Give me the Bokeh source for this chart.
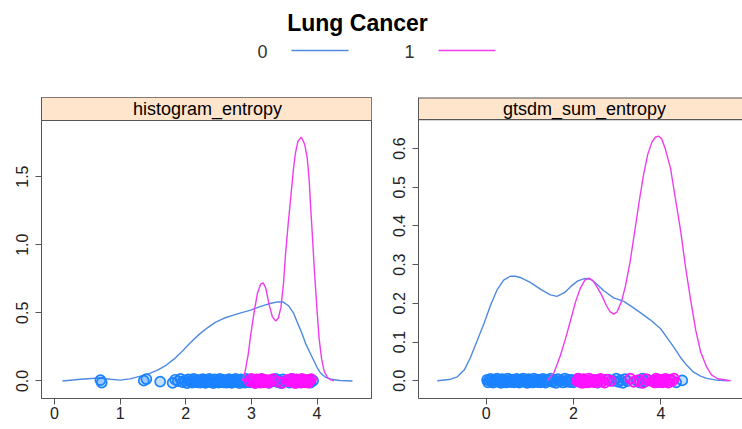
from bokeh.plotting import figure
from bokeh.layouts import column, row
from bokeh.models import Range1d, FixedTicker, NumeralTickFormatter
from bokeh.core.properties import value
from bokeh.embed import file_html
from bokeh.resources import INLINE

# ---------------- data ----------------
title = "Lung Cancer"
groups = ["0", "1"]
panel_names = ["histogram_entropy", "gtsdm_sum_entropy"]

# panel 1 : histogram_entropy density curves
h_x0 = [0.12, 0.40, 0.68, 0.85, 1.00, 1.15, 1.31, 1.45, 1.57, 1.70, 1.82, 1.95, 2.07, 2.20, 2.33,
        2.45, 2.58, 2.70, 2.84, 2.99, 3.10, 3.19, 3.30, 3.40, 3.48, 3.57, 3.64, 3.70, 3.77, 3.83,
        3.90, 3.95, 4.00, 4.05, 4.12, 4.21, 4.35, 4.54]
h_y0 = [0.0, 0.012, 0.022, 0.012, 0.006, 0.015, 0.035, 0.055, 0.08, 0.115, 0.16, 0.22, 0.28, 0.34,
        0.39, 0.43, 0.46, 0.48, 0.50, 0.52, 0.54, 0.555, 0.57, 0.58, 0.58, 0.55, 0.50, 0.43, 0.35,
        0.27, 0.20, 0.15, 0.10, 0.06, 0.03, 0.012, 0.003, 0.0]
h_x1 = [2.86, 2.90, 2.95, 2.99, 3.04, 3.09, 3.14, 3.18, 3.22, 3.27, 3.32, 3.37, 3.41, 3.45, 3.49,
        3.52, 3.56, 3.60, 3.64, 3.67, 3.71, 3.76, 3.81, 3.85, 3.88, 3.90, 3.93, 3.96, 4.00, 4.03,
        4.07, 4.11, 4.16, 4.21, 4.26]
h_y1 = [0.0, 0.06, 0.19, 0.34, 0.50, 0.64, 0.71, 0.72, 0.68, 0.56, 0.47, 0.44, 0.46, 0.54, 0.72,
        0.93, 1.15, 1.35, 1.55, 1.67, 1.76, 1.79, 1.74, 1.64, 1.48, 1.30, 1.06, 0.81, 0.52, 0.32,
        0.16, 0.07, 0.025, 0.008, 0.0]
# panel 1 : observations
h_pts0 = [0.70, 0.72, 1.36, 1.40, 1.61, 1.80, 1.84, 1.88, 1.92, 1.95, 1.99, 2.02, 2.04, 2.06, 2.08,
          2.10, 2.12, 2.14, 2.16, 2.18, 2.20, 2.22, 2.24, 2.26, 2.28, 2.30, 2.32, 2.34, 2.36, 2.38,
          2.40, 2.42, 2.44, 2.46, 2.48, 2.50, 2.52, 2.54, 2.56, 2.58, 2.60, 2.62, 2.64, 2.66, 2.68,
          2.70, 2.72, 2.74, 2.76, 2.78, 2.80, 2.82, 2.84, 2.86, 2.88, 2.90, 2.92, 2.94, 2.96, 2.98,
          3.01, 3.05, 3.10, 3.15, 3.21, 3.27, 3.31, 3.34, 3.37, 3.40, 3.42, 3.45, 3.48, 3.51, 3.54,
          3.58, 3.62, 3.67, 3.72, 3.78, 3.84, 3.90, 3.94]
h_pts1 = [2.97, 3.00, 3.02, 3.04, 3.06, 3.08, 3.10, 3.12, 3.14, 3.16, 3.18, 3.20, 3.22, 3.24, 3.26,
          3.29, 3.33, 3.40, 3.47, 3.55, 3.58, 3.61, 3.63, 3.65, 3.67, 3.69, 3.71, 3.73, 3.75, 3.77,
          3.79, 3.81, 3.83, 3.85, 3.87, 3.89, 3.91]

# panel 2 : gtsdm_sum_entropy density curves
g_x0 = [-1.12, -0.85, -0.66, -0.50, -0.36, -0.20, -0.05, 0.10, 0.25, 0.40, 0.55, 0.67, 0.80, 1.01,
        1.25, 1.47, 1.62, 1.80, 1.95, 2.10, 2.25, 2.40, 2.55, 2.70, 2.92, 3.15, 3.35, 3.53, 3.75,
        3.99, 4.15, 4.30, 4.45, 4.60, 4.75, 4.91, 5.05, 5.25, 5.55]
g_y0 = [0.0, 0.003, 0.010, 0.028, 0.06, 0.105, 0.148, 0.195, 0.235, 0.260, 0.270, 0.270, 0.266,
        0.254, 0.236, 0.222, 0.218, 0.228, 0.245, 0.258, 0.264, 0.262, 0.248, 0.232, 0.214, 0.205,
        0.19, 0.176, 0.158, 0.135, 0.11, 0.086, 0.06, 0.039, 0.022, 0.012, 0.006, 0.002, 0.0]
g_x1 = [1.40, 1.55, 1.70, 1.82, 1.93, 2.05, 2.16, 2.26, 2.35, 2.45, 2.55, 2.65, 2.75, 2.84, 2.92,
        3.00, 3.10, 3.19, 3.30, 3.40, 3.50, 3.60, 3.70, 3.80, 3.88, 3.95, 4.02, 4.10, 4.22, 4.32,
        4.45, 4.57, 4.68, 4.80, 4.91, 5.05, 5.16, 5.30, 5.60]
g_y1 = [0.0, 0.02, 0.065, 0.11, 0.155, 0.205, 0.24, 0.26, 0.265, 0.258, 0.24, 0.22, 0.195, 0.178,
        0.172, 0.178, 0.205, 0.245, 0.31, 0.385, 0.46, 0.53, 0.585, 0.618, 0.63, 0.632, 0.625,
        0.60, 0.55, 0.48, 0.39, 0.29, 0.21, 0.13, 0.075, 0.035, 0.015, 0.005, 0.0]
# panel 2 : observations
g_pts0 = [0.02, 0.04, 0.07, 0.10, 0.13, 0.16, 0.19, 0.22, 0.25, 0.28, 0.31, 0.34, 0.37, 0.40, 0.43,
          0.46, 0.49, 0.52, 0.55, 0.58, 0.61, 0.64, 0.67, 0.70, 0.73, 0.76, 0.79, 0.82, 0.85, 0.88,
          0.91, 0.94, 0.97, 1.00, 1.03, 1.06, 1.09, 1.12, 1.15, 1.18, 1.21, 1.24, 1.27, 1.30, 1.33,
          1.36, 1.40, 1.44, 1.48, 1.52, 1.56, 1.60, 1.64, 1.68, 1.72, 1.76, 1.80, 1.84, 1.88, 1.92,
          1.96, 2.00, 2.04, 2.10, 2.30, 2.55, 2.80, 2.92, 2.98, 3.03, 3.08, 3.13, 3.18, 3.23, 3.45,
          3.52, 3.58, 3.64, 3.70, 3.95, 4.20, 4.35, 4.49]
g_pts1 = [2.08, 2.11, 2.14, 2.17, 2.20, 2.23, 2.26, 2.29, 2.32, 2.35, 2.38, 2.42, 2.46, 2.50, 2.54,
          2.58, 2.62, 2.66, 2.71, 2.76, 2.85, 3.30, 3.38, 3.50, 3.58, 3.66, 3.80, 3.83, 3.86, 3.89,
          3.92, 3.95, 3.98, 4.01, 4.04, 4.07, 4.10, 4.13, 4.17, 4.21, 4.26, 4.30]

# tick values
h_xticks = [0, 1, 2, 3, 4]
h_yticks = [0, 0.5, 1.0, 1.5]
g_xticks = [0, 2, 4]
g_yticks = [0, 0.1, 0.2, 0.3, 0.4, 0.5, 0.6]

# vertical jitter pattern for the observation circles (pixels)
jitter_px = [0.8, -1.6, 0.3, 1.9, -0.7, -2.0, 1.2, -0.2, 2.1, -1.2, 0.5, -2.2, 1.6, -0.5, 0.1,
             -1.8, 2.0, -0.9, 1.0, -1.4]

# ---------------- style ----------------
FONT = "Liberation Sans"
LINE_COLORS = ["#4f8ae0", "#ee3cee"]
PT_COLORS = ["#1a82ff", "#ff10ff"]
FRAME = "#555555"
STRIP_FILL = "#ffe5cc"

W = 742
HEAD_H = 88
PANEL_H = 341

# ---------------- header (title + legend) ----------------
head = figure(width=W, height=HEAD_H, x_range=Range1d(0, W), y_range=Range1d(HEAD_H, 0),
              output_backend="svg", toolbar_location=None, min_border=0)
head.axis.visible = False
head.grid.visible = False
head.outline_line_color = None
head.text(x=[357], y=[22], text=[title], text_align="center", text_baseline="middle",
          text_font=value(FONT), text_font_size="23px", text_font_style="bold", text_color="#000000")
leg_label_x = [262 + 147 * i for i in range(len(groups))]
leg_y = 51
head.text(x=leg_label_x, y=[leg_y] * len(groups), text=groups, text_align="center",
          text_baseline="middle", text_font=value(FONT), text_font_size="18px", text_color="#333333")
head.segment(x0=[lx + 29 for lx in leg_label_x], x1=[lx + 86 for lx in leg_label_x],
             y0=[leg_y - 1] * len(groups), y1=[leg_y - 1] * len(groups), line_color=LINE_COLORS,
             line_width=1.5)


def make_panel(name, width, min_left, min_right, xr, yr, strip_bottom, text_x, curves, pts,
               xticks, yticks, outline):
    p = figure(width=width, height=PANEL_H, x_range=Range1d(*xr), y_range=Range1d(*yr),
               output_backend="svg", toolbar_location=None,
               min_border_left=min_left, min_border_right=min_right,
               min_border_top=9, min_border_bottom=31)
    p.grid.visible = False
    p.outline_line_color = FRAME if outline else None
    # strip
    p.quad(left=[xr[0]], right=[xr[1]], bottom=[strip_bottom], top=[yr[1]],
           fill_color=STRIP_FILL, line_color=None)
    p.segment(x0=[xr[0]], x1=[xr[1]], y0=[strip_bottom], y1=[strip_bottom], line_color=FRAME,
              line_width=1.2)
    if not outline:
        p.segment(x0=[xr[0]], x1=[xr[1]], y0=[yr[1]], y1=[yr[1]], line_color=FRAME, line_width=2)
    p.text(x=[text_x], y=[(strip_bottom + yr[1]) / 2], text=[name], text_align="center",
           text_baseline="middle", text_font=value(FONT), text_font_size="18px",
           text_color="#000000")
    px_per_y = (PANEL_H - 9 - 31) / (yr[1] - yr[0])
    # density curves and observations, group by group
    for i in range(len(groups)):
        cx, cy = curves[i]
        p.line(cx, cy, line_color=LINE_COLORS[i], line_width=1.4)
        jy = [jitter_px[(k + 7 * i) % len(jitter_px)] / px_per_y for k in range(len(pts[i]))]
        p.scatter(pts[i], jy, marker="circle", size=10, fill_color=PT_COLORS[i], fill_alpha=0.25,
                  line_color=PT_COLORS[i], line_width=1.7)
    # axes
    p.xaxis.ticker = FixedTicker(ticks=xticks)
    p.yaxis.ticker = FixedTicker(ticks=yticks)
    p.xaxis.formatter = NumeralTickFormatter(format="0")
    p.yaxis.formatter = NumeralTickFormatter(format="0.0")
    p.yaxis.major_label_orientation = "vertical"
    for ax in (p.xaxis, p.yaxis):
        ax.axis_line_color = FRAME
        ax.major_tick_line_color = FRAME
        ax.major_tick_out = 6
        ax.major_tick_in = 0
        ax.minor_tick_line_color = None
        ax.major_label_text_font = FONT
        ax.major_label_text_font_size = "16px"
        ax.major_label_text_color = "#222222"
    p.xaxis.major_label_standoff = 2
    p.yaxis.major_label_standoff = 7
    return p


p1 = make_panel(panel_names[0], 376, 41, 5, (-0.198, 4.83), (-0.129, 2.081), 1.912, 2.33,
                [(h_x0, h_y0), (h_x1, h_y1)], [h_pts0, h_pts1], h_xticks, h_yticks, True)
p2 = make_panel(panel_names[1], 366, 42, 0, (-1.55, 5.87), (-0.046, 0.732), 0.675, 2.25,
                [(g_x0, g_y0), (g_x1, g_y1)], [g_pts0, g_pts1], g_xticks, g_yticks, False)

layout = column(head, row(p1, p2))
open("out.html", "w").write(file_html(layout, INLINE))
